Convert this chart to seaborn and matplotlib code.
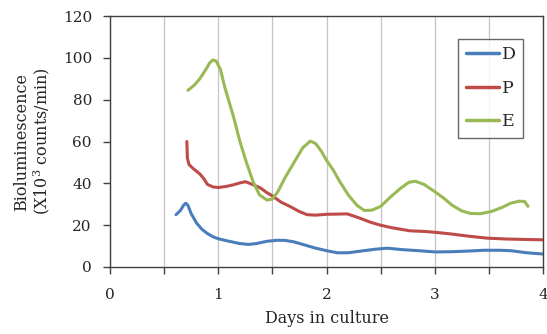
import pandas as pd
import seaborn as sns
import matplotlib.pyplot as plt
from matplotlib.ticker import MultipleLocator

# values (days, x10^3 counts/min)
d_days = [0.61, 0.65, 0.68, 0.70, 0.72, 0.75, 0.80, 0.85, 0.90, 0.95, 1.00, 1.10, 1.20, 1.28,
          1.35, 1.45, 1.55, 1.62, 1.70, 1.80, 1.90, 2.00, 2.10, 2.20, 2.30, 2.45, 2.56, 2.70,
          2.85, 3.00, 3.15, 3.30, 3.45, 3.60, 3.70, 3.85, 4.00]
d_vals = [25, 27, 29.5, 30.5, 29.5, 25.5, 21, 18, 16, 14.5, 13.5, 12.3, 11.2, 10.8,
          11.2, 12.3, 12.8, 12.7, 12, 10.5, 9, 7.8, 6.8, 6.8, 7.5, 8.5, 9, 8.3,
          7.8, 7.2, 7.3, 7.6, 8.0, 8.0, 7.8, 6.8, 6.2]

p_days = [0.71, 0.715, 0.73, 0.77, 0.83, 0.87, 0.90, 0.95, 1.00, 1.07, 1.14, 1.20, 1.25, 1.30,
          1.39, 1.45, 1.50, 1.58, 1.66, 1.75, 1.82, 1.90, 2.00, 2.10, 2.19, 2.30, 2.40, 2.49,
          2.60, 2.77, 2.90, 3.00, 3.15, 3.30, 3.48, 3.65, 3.80, 4.00]
p_vals = [60, 52, 49, 47, 44.5, 42, 39.5, 38.3, 38, 38.5, 39.3, 40.2, 40.8, 39.8,
          37.8, 35.5, 34, 31, 29, 26.5, 25, 24.8, 25.2, 25.3, 25.4, 23.5, 21.5, 20.1,
          18.8, 17.3, 17, 16.6, 15.8, 14.8, 13.8, 13.4, 13.2, 13.0]

e_days = [0.72, 0.78, 0.83, 0.88, 0.92, 0.95, 0.98, 1.02, 1.06, 1.10, 1.14, 1.20, 1.26, 1.32,
          1.38, 1.45, 1.50, 1.55, 1.62, 1.70, 1.78, 1.85, 1.90, 1.95, 2.00, 2.06, 2.12, 2.20,
          2.28, 2.35, 2.42, 2.50, 2.58, 2.68, 2.76, 2.82, 2.90, 3.00, 3.08, 3.16, 3.25, 3.33,
          3.42, 3.52, 3.62, 3.70, 3.78, 3.83, 3.86]
e_vals = [84.5, 87, 90, 94, 97.5, 99, 98.5, 94.5, 86, 79, 72, 60, 50, 41,
          34.5, 32, 32.5, 36, 43, 50, 57, 60.2, 59, 55.5, 51, 46.5, 41, 34.5,
          29.5, 27, 27.2, 29, 33, 37.5, 40.5, 41, 39.5, 36, 33, 29.5, 26.8, 25.6,
          25.5, 26.5, 28.5, 30.5, 31.5, 31.3, 29]

series = ["D", "P", "E"]
colors = ["#4A7EBB", "#BE4B48", "#98B954"]

df = pd.concat([
    pd.DataFrame({"days": d_days, "value": d_vals, "series": "D"}),
    pd.DataFrame({"days": p_days, "value": p_vals, "series": "P"}),
    pd.DataFrame({"days": e_days, "value": e_vals, "series": "E"}),
])

sns.set_style("white")
plt.rcParams["font.family"] = ["DejaVu Serif"]
plt.rcParams["mathtext.fontset"] = "dejavuserif"

fig = plt.figure(figsize=(5.47, 3.34), dpi=100)
ax = fig.add_axes([0.201, 0.2006, 0.792, 0.7514])

sns.lineplot(data=df, x="days", y="value", hue="series", hue_order=series,
             palette=colors, sort=False, estimator=None, linewidth=2.2, ax=ax)

ax.set_xlim(0, 4)
ax.set_ylim(0, 120)
ax.xaxis.set_major_locator(MultipleLocator(1))
ax.xaxis.set_minor_locator(MultipleLocator(0.5))
ax.yaxis.set_major_locator(MultipleLocator(20))
ax.grid(True, axis="x", which="both", color="#c4c4c4", linewidth=0.9)
ax.set_axisbelow(True)

ax.tick_params(axis="x", which="both", direction="out", length=5, width=1, color="#404040",
               bottom=True, pad=10, labelsize=11)
ax.tick_params(axis="y", direction="out", length=5, width=1, color="#404040",
               left=True, pad=8, labelsize=11)
for s in ax.spines.values():
    s.set_color("#404040")
    s.set_linewidth(1)

ax.set_xlabel("Days in culture", fontsize=11.5, labelpad=6)
ax.set_ylabel("Bioluminescence\n(X10$^3$ counts/min)", fontsize=11.5, labelpad=8,
              linespacing=1.0)

leg = ax.legend(title=None, loc="upper left", bbox_to_anchor=(0.804, 0.91), fontsize=12.5,
                frameon=True, fancybox=False, handlelength=1.9, handletextpad=0.15,
                labelspacing=0.95, borderpad=0.45, borderaxespad=0)
leg.get_frame().set_edgecolor("#404040")
leg.get_frame().set_linewidth(1)
for line in leg.get_lines():
    line.set_linewidth(2.5)

fig.savefig("out.png", dpi=100)
